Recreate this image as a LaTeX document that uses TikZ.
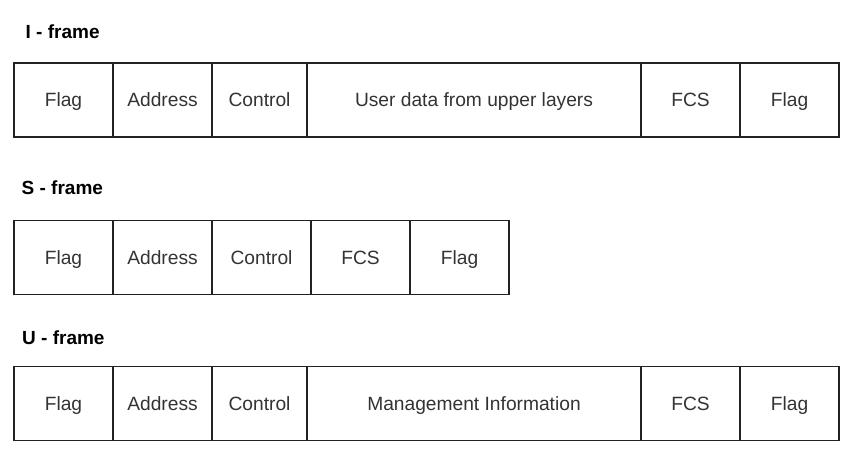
\documentclass[tikz,border=0pt]{standalone}
\usepackage{fontspec}
\setmainfont{Liberation Sans}
\usepackage{tikz}
\definecolor{celltext}{HTML}{333333}
\definecolor{cellline}{HTML}{222222}
\tikzset{
  cell/.style={draw=cellline, line width=1.2pt, rectangle, inner sep=0pt,
    minimum height=74pt, text height=18pt, text depth=4.6pt, text=celltext,
    font=\fontsize{19.2}{22}\selectfont},
  title/.style={anchor=west, inner sep=0pt, font=\fontsize{19}{22}\selectfont\bfseries}
}

\begin{document}
\begin{tikzpicture}[x=1pt,y=-1pt]
\useasboundingbox (0,0) rectangle (850,457);
      \begin{scope}[shift={(0,0)}]
\node[title] (ititle) at (25.5,32) {I - frame};
\node[cell, minimum width=99pt] (i0) at (63.5,100) {Flag};
\node[cell, minimum width=99pt] (i1) at (162.5,100) {Address};
\node[cell, minimum width=95pt] (i2) at (259.5,100) {Control};
\node[cell, minimum width=334pt] (i3) at (474,100) {User data from upper layers};
\node[cell, minimum width=99pt] (i4) at (690.5,100) {FCS};
\node[cell, minimum width=99pt] (i5) at (789.5,100) {Flag};
\end{scope}
      \begin{scope}[shift={(0,0)}]
\node[title] (stitle) at (21.5,188) {S - frame};
\node[cell, minimum width=99pt] (s0) at (63.5,257.5) {Flag};
\node[cell, minimum width=99pt] (s1) at (162.5,257.5) {Address};
\node[cell, minimum width=99pt] (s2) at (261.5,257.5) {Control};
\node[cell, minimum width=99pt] (s3) at (360.5,257.5) {FCS};
\node[cell, minimum width=99pt] (s4) at (459.5,257.5) {Flag};
\end{scope}
      \begin{scope}[shift={(0,0)}]
\node[title] (utitle) at (22,338) {U - frame};
\node[cell, minimum width=99pt] (u0) at (63.5,403.5) {Flag};
\node[cell, minimum width=99pt] (u1) at (162.5,403.5) {Address};
\node[cell, minimum width=95pt] (u2) at (259.5,403.5) {Control};
\node[cell, minimum width=334pt] (u3) at (474,403.5) {Management Information};
\node[cell, minimum width=99pt] (u4) at (690.5,403.5) {FCS};
\node[cell, minimum width=99pt] (u5) at (789.5,403.5) {Flag};
\end{scope}
    \end{tikzpicture}
\end{document}
